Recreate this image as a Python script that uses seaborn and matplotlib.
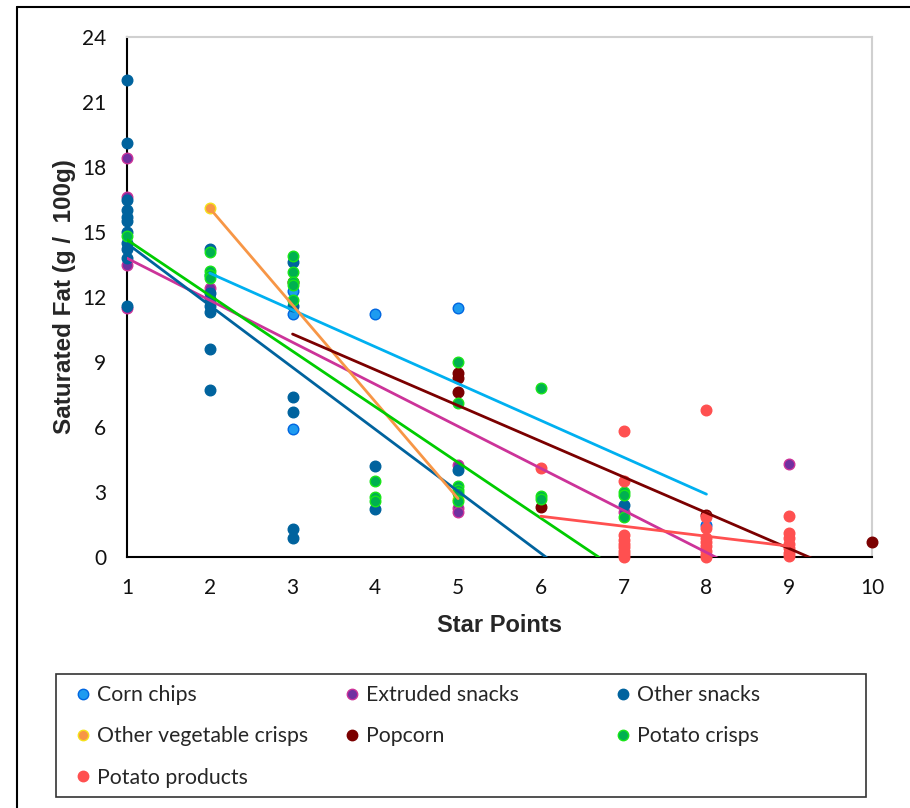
import numpy as np
import pandas as pd
import matplotlib
matplotlib.use("Agg")
import matplotlib.pyplot as plt
import seaborn as sns
from matplotlib.lines import Line2D
from matplotlib.patches import Rectangle

# ---------------- data ----------------
categories = ["Corn chips", "Extruded snacks", "Other snacks",
              "Other vegetable crisps", "Popcorn", "Potato crisps",
              "Potato products"]

corn_x = [2, 3, 3, 3, 4, 5, 8]
corn_y = [13.0, 12.3, 11.2, 5.9, 11.2, 11.5, 1.5]

extruded_x = [1, 1, 1, 1, 2, 5, 5, 5, 7, 9]
extruded_y = [18.4, 16.6, 13.5, 11.5, 12.4, 4.25, 2.25, 2.1, 2.1, 4.3]

other_x = [1, 1, 1, 1, 1, 1, 1, 1, 1, 1, 1,
           2, 2, 2, 2, 2, 2, 2,
           3, 3, 3, 3, 3, 3,
           4, 4, 5, 7]
other_y = [22.0, 19.1, 16.5, 16.0, 15.7, 15.5, 15.0, 14.5, 14.2, 13.8, 11.6,
           14.2, 12.2, 11.9, 11.6, 11.3, 9.6, 7.7,
           13.6, 11.6, 7.4, 6.7, 1.3, 0.9,
           4.2, 2.2, 4.0, 2.4]

veg_x = [2, 5]
veg_y = [16.1, 2.7]

popcorn_x = [3, 5, 5, 5, 6, 8, 10]
popcorn_y = [12.7, 8.5, 8.25, 7.6, 2.3, 1.95, 0.7]

crisps_x = [1, 2, 2, 2, 2, 3, 3, 3, 3, 3, 4, 4, 4,
            5, 5, 5, 5, 5, 5, 6, 6, 6, 7, 7, 7]
crisps_y = [14.8, 14.1, 13.2, 13.0, 12.9, 13.9, 13.15, 12.7, 12.55, 11.85,
            3.5, 2.75, 2.6, 9.0, 7.1, 3.3, 3.1, 2.95, 2.6, 7.8, 2.8, 2.7,
            3.0, 2.85, 1.85]

products_x = [6, 7, 7, 7, 7, 7, 7, 7, 7, 7,
              8, 8, 8, 8, 8, 8, 8, 8, 8,
              9, 9, 9, 9, 9, 9, 9]
products_y = [4.1, 5.8, 3.5, 1.0, 0.8, 0.6, 0.45, 0.3, 0.15, 0.0,
              6.8, 1.85, 1.35, 0.9, 0.7, 0.5, 0.3, 0.1, 0.0,
              1.9, 1.1, 0.9, 0.6, 0.4, 0.2, 0.05]

# linear trendline coefficients (slope, intercept)
trend_slope = [-1.70, -1.94, -2.86, -4.467, -1.65, -2.57, -0.46]
trend_intercept = [16.5, 15.73, 17.33, 25.03, 15.24, 17.21, 4.64]

y_ticks = [0, 3, 6, 9, 12, 15, 18, 21, 24]
x_ticks = [1, 2, 3, 4, 5, 6, 7, 8, 9, 10]

# ---------------- styles ----------------
fill_colors = ["#1E9BF0", "#7030A0", "#00639E", "#F79646", "#7B0000", "#00B050", "#FF5050"]
edge_colors = ["#0066E0", "#CC3399", "#00639E", "#F5E11A", "#7B0000", "#19E619", "#FF5050"]
line_colors = ["#00B0F0", "#CC3399", "#00639E", "#F79646", "#7B0000", "#00CC00", "#FF5050"]

xs = [corn_x, extruded_x, other_x, veg_x, popcorn_x, crisps_x, products_x]
ys = [corn_y, extruded_y, other_y, veg_y, popcorn_y, crisps_y, products_y]

frames = []
for c, xv, yv in zip(categories, xs, ys):
    frames.append(pd.DataFrame({"cat": c, "x": xv, "y": yv}))
df = pd.concat(frames, ignore_index=True)

sns.set_style("white")
plt.rcParams["font.family"] = ["Lato", "DejaVu Sans"]

fig = plt.figure(figsize=(9.10, 8.08), dpi=100)
ax = fig.add_axes([127 / 910, 1 - 557 / 808, 745 / 910, 520 / 808])

for i, c in enumerate(categories):
    sub = df[df["cat"] == c]
    sns.scatterplot(data=sub, x="x", y="y", ax=ax, color=fill_colors[i],
                    edgecolor=edge_colors[i], linewidth=1.0, s=58,
                    legend=False, zorder=3 + i * 0.01, clip_on=False)

for i, c in enumerate(categories):
    sub = df[df["cat"] == c]
    xr = np.array([sub["x"].min(), sub["x"].max()], dtype=float)
    line_df = pd.DataFrame({"x": xr, "y": trend_intercept[i] + trend_slope[i] * xr})
    sns.lineplot(data=line_df, x="x", y="y", ax=ax, color=line_colors[i],
                 linewidth=2.0, zorder=4, legend=False)

ax.set_xlim(1, 10)
ax.set_ylim(0, 24)
ax.set_xticks(x_ticks)
ax.set_yticks(y_ticks)
ax.set_xticklabels([str(t) for t in x_ticks])
ax.set_yticklabels([str(t) for t in y_ticks])
ax.tick_params(direction="inout", length=12, width=1.3, labelsize=15,
               colors="black", labelcolor="#111111")
ax.tick_params(axis="y", pad=9)
ax.tick_params(axis="x", pad=9)
ax.grid(False)

for side in ["left", "bottom"]:
    ax.spines[side].set_color("black")
    ax.spines[side].set_linewidth(1.5)
for side in ["top", "right"]:
    ax.spines[side].set_color("#D0D0D0")
    ax.spines[side].set_linewidth(1.5)

ax.set_xlabel("Star Points", fontsize=17, fontweight="bold",
              family=["Liberation Sans", "DejaVu Sans"], labelpad=12)
ax.set_ylabel("Saturated Fat (g /  100g)", fontsize=17.5, fontweight="bold",
              family=["Liberation Sans", "DejaVu Sans"], labelpad=4)

# outer chart frame
fig.add_artist(Line2D([17 / 910, 17 / 910], [-0.01, 1 - 7 / 808],
                      transform=fig.transFigure, color="black", lw=1.5))
fig.add_artist(Line2D([17 / 910, 1.01], [1 - 7 / 808, 1 - 7 / 808],
                      transform=fig.transFigure, color="black", lw=1.5))

# legend box
fig.add_artist(Rectangle((56 / 910, 1 - 797 / 808), 810 / 910, 123 / 808,
                         transform=fig.transFigure, fill=False,
                         edgecolor="#333333", lw=1.2))

def handle(i):
    return Line2D([], [], linestyle="none", marker="o", markersize=7.5,
                  markerfacecolor=fill_colors[i], markeredgecolor=edge_colors[i],
                  markeredgewidth=1.0)

columns = [[0, 3, 6], [1, 4], [2, 5]]
col_left = [77, 346, 617]
for col, left in zip(columns, col_left):
    fig.legend(handles=[handle(i) for i in col],
               labels=[categories[i] for i in col],
               loc="upper left", bbox_to_anchor=(left / 910, 1 - 685 / 808),
               frameon=False, fontsize=15.3, handlelength=0.6,
               handletextpad=0.35, labelspacing=1.0, borderpad=0,
               borderaxespad=0)

fig.savefig("out.png", dpi=100)
